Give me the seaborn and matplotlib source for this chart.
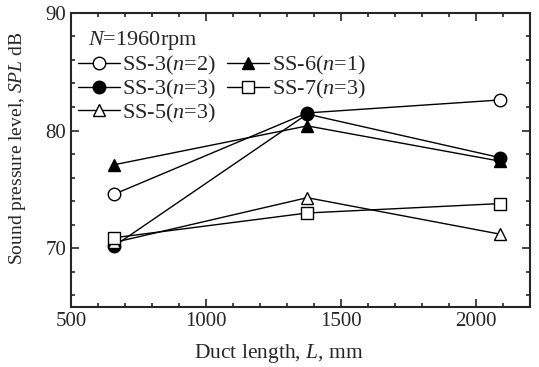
import pandas as pd
import numpy as np
import matplotlib
matplotlib.use("Agg")
import matplotlib.pyplot as plt
import seaborn as sns
from matplotlib.ticker import MultipleLocator

duct_length = [660, 1375, 2090]
ss3_n2 = [74.6, 81.5, 82.6]
ss3_n3 = [70.2, 81.4, 77.7]
ss5_n3 = [70.5, 74.3, 71.2]
ss6_n1 = [77.1, 80.4, 77.4]
ss7_n3 = [70.9, 73.0, 73.8]

labels = [r"SS-3($n$=2)", r"SS-3($n$=3)", r"SS-5($n$=3)", r"SS-6($n$=1)", r"SS-7($n$=3)"]
series = [ss3_n2, ss3_n3, ss5_n3, ss6_n1, ss7_n3]
markers = ["o", "o", "^", "^", "s"]
faces = ["white", "black", "white", "black", "white"]

sns.set_style("ticks")
plt.rcParams["font.family"] = ["Liberation Serif", "DejaVu Serif"]
plt.rcParams["mathtext.fontset"] = "custom"
plt.rcParams["mathtext.rm"] = "Liberation Serif"
plt.rcParams["mathtext.it"] = "Liberation Serif:italic"

fig, ax = plt.subplots(figsize=(5.39, 3.67), dpi=100)
fig.subplots_adjust(left=0.132, right=0.983, top=0.965, bottom=0.163)

for lab, vals, m, fc in zip(labels, series, markers, faces):
    df = pd.DataFrame({"L": duct_length, "SPL": vals})
    sns.lineplot(data=df, x="L", y="SPL", ax=ax, color="black", linewidth=1.0,
                 marker=m, markersize=9, markerfacecolor=fc,
                 markeredgecolor="black", markeredgewidth=1.0, label=lab)

ax.set_xlim(500, 2200)
ax.set_ylim(65, 90)
ax.xaxis.set_major_locator(MultipleLocator(500))
ax.xaxis.set_minor_locator(MultipleLocator(100))
ax.yaxis.set_major_locator(MultipleLocator(10))
ax.yaxis.set_minor_locator(MultipleLocator(2))
ax.tick_params(which="both", direction="in", top=True, right=True, labelsize=15, width=1.2)
ax.tick_params(which="major", length=6)
ax.tick_params(which="minor", length=3)
for s in ax.spines.values():
    s.set_linewidth(1.5)

ax.set_xlabel(r"Duct length, $L$, mm", fontsize=15.5)
ax.set_ylabel(r"Sound pressure level, $SPL$ dB", fontsize=14)
ax.xaxis.set_label_coords(0.453, -0.12)
ax.yaxis.set_label_coords(-0.094, 0.54)

ax.text(0.037, 0.905, r"$N$=1960rpm", transform=ax.transAxes, fontsize=16, va="center")
ax.legend(loc="upper left", bbox_to_anchor=(-0.02, 0.912), ncol=2, frameon=False,
          fontsize=16, handlelength=1.9, handletextpad=0.1, columnspacing=0.5,
          labelspacing=0.03, borderpad=0.2)

fig.savefig("out.png", dpi=100)
